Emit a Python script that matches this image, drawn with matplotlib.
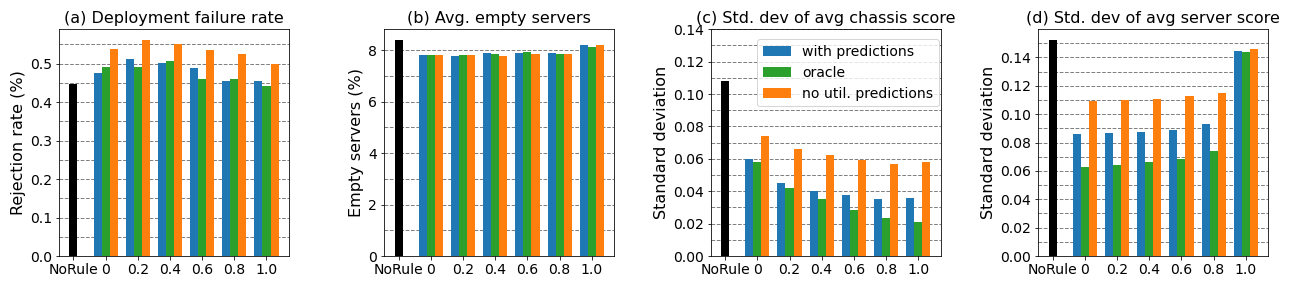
import matplotlib
matplotlib.use("Agg")
import matplotlib.pyplot as plt
import numpy as np
from matplotlib.ticker import AutoMinorLocator, MultipleLocator

plt.rcParams['font.family'] = ['DejaVu Sans']

tick_labels = ["NoRule", "0", "0.2", "0.4", "0.6", "0.8", "1.0"]
series_names = ["with predictions", "oracle", "no util. predictions"]
colors = ["#1f77b4", "#2ca02c", "#ff7f0e"]

# (a) Deployment failure rate
a_norule = 0.446
a_pred = [0.475, 0.511, 0.501, 0.488, 0.454, 0.454]
a_oracle = [0.490, 0.490, 0.506, 0.459, 0.459, 0.441]
a_noutil = [0.537, 0.561, 0.551, 0.535, 0.524, 0.499]

# (b) Avg. empty servers
b_norule = 8.40
b_pred = [7.82, 7.78, 7.90, 7.90, 7.90, 8.21]
b_oracle = [7.82, 7.82, 7.86, 7.94, 7.86, 8.13]
b_noutil = [7.82, 7.82, 7.78, 7.86, 7.86, 8.21]

# (c) Std. dev of avg chassis score
c_norule = 0.1081
c_pred = [0.0599, 0.0451, 0.0399, 0.0377, 0.0352, 0.0358]
c_oracle = [0.0581, 0.0420, 0.0352, 0.0284, 0.0235, 0.0210]
c_noutil = [0.0741, 0.0661, 0.0624, 0.0595, 0.0568, 0.0581]

# (d) Std. dev of avg server score
d_norule = 0.1522
d_pred = [0.0860, 0.0867, 0.0874, 0.0888, 0.0930, 0.1445]
d_oracle = [0.0627, 0.0641, 0.0662, 0.0684, 0.0740, 0.1438]
d_noutil = [0.1092, 0.1099, 0.1106, 0.1128, 0.1149, 0.1459]

panels = [
    ("(a) Deployment failure rate", "Rejection rate (%)", a_norule, [a_pred, a_oracle, a_noutil], None, 0.1),
    ("(b) Avg. empty servers", "Empty servers (%)", b_norule, [b_pred, b_oracle, b_noutil], None, 2),
    ("(c) Std. dev of avg chassis score", "Standard deviation", c_norule, [c_pred, c_oracle, c_noutil], (0, 0.14), 0.02),
    ("(d) Std. dev of avg server score", "Standard deviation", d_norule, [d_pred, d_oracle, d_noutil], None, 0.02),
]

fig = plt.figure(figsize=(18, 4), dpi=72)
W, H = 1296, 288
lefts = [59, 384.3, 710.7, 1038.3]
width = 230
top, bottom = 29.3, 256

bw = 0.25
for i, (title, ylabel, norule, series, ylim, major) in enumerate(panels):
    ax = fig.add_axes([lefts[i] / W, (H - bottom) / H, width / W, (bottom - top) / H])
    ax.set_axisbelow(True)
    ax.bar([0], [norule], width=bw, color="black")
    x = np.arange(1, len(series[0]) + 1)
    for k, (vals, col, name) in enumerate(zip(series, colors, series_names)):
        ax.bar(x + (k - 1) * bw, vals, width=bw, color=col, label=name)
    ax.set_xticks(np.arange(len(tick_labels)))
    ax.set_xticklabels(tick_labels, fontsize=14)
    ax.yaxis.set_major_locator(MultipleLocator(major))
    ax.yaxis.set_minor_locator(AutoMinorLocator(2))
    ax.tick_params(axis='y', which='minor', length=0)
    ax.tick_params(axis='both', which='major', labelsize=14)
    if ylim is not None:
        ax.set_ylim(*ylim)
    ax.grid(True, axis='y', which='both', linestyle='--', color='gray', linewidth=1)
    ax.set_title(title, fontsize=16)
    ax.set_ylabel(ylabel, fontsize=16)
    if i == 2:
        ax.legend(loc='upper right', bbox_to_anchor=(0.992, 0.956),
                  borderaxespad=0, fontsize=14)

fig.savefig("out.png", dpi=72)
